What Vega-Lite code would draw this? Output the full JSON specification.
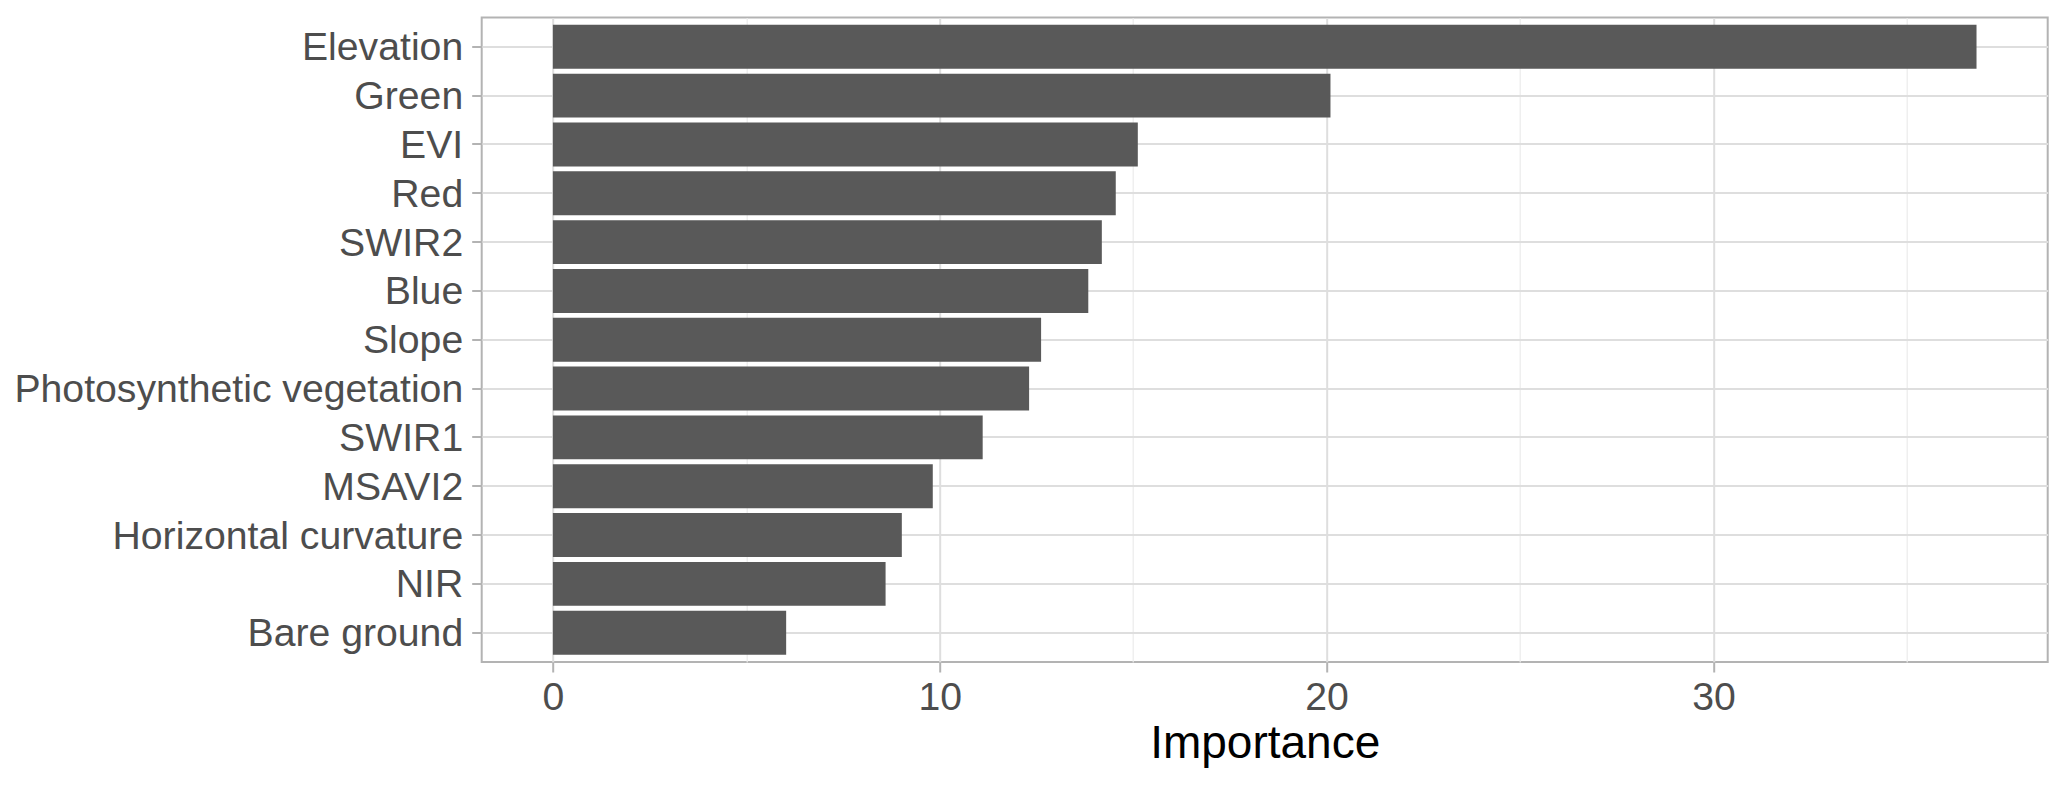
{
  "$schema": "https://vega.github.io/schema/vega-lite/v6.json",
  "width": 1566,
  "height": 644.5,
  "autosize": {"type": "none"},
  "padding": {"left": 481.7, "top": 17.5, "right": 19.3, "bottom": 123},
  "background": "white",
  "config": {
    "view": {"stroke": "#b3b3b3", "strokeWidth": 2},
    "font": "Liberation Sans"
  },
  "data": {
    "values": [
      {"variable": "Elevation", "importance": 36.8},
      {"variable": "Green", "importance": 20.1},
      {"variable": "EVI", "importance": 15.12},
      {"variable": "Red", "importance": 14.55},
      {"variable": "SWIR2", "importance": 14.19},
      {"variable": "Blue", "importance": 13.84},
      {"variable": "Slope", "importance": 12.62},
      {"variable": "Photosynthetic vegetation", "importance": 12.31},
      {"variable": "SWIR1", "importance": 11.11},
      {"variable": "MSAVI2", "importance": 9.82},
      {"variable": "Horizontal curvature", "importance": 9.02},
      {"variable": "NIR", "importance": 8.6},
      {"variable": "Bare ground", "importance": 6.03}
    ]
  },
  "mark": {"type": "bar", "color": "#595959"},
  "encoding": {
    "y": {
      "field": "variable",
      "type": "nominal",
      "sort": null,
      "scale": {"paddingInner": 0.1, "paddingOuter": 0.15},
      "axis": {
        "title": null,
        "bandPosition": 0.5,
        "domain": false,
        "grid": true,
        "gridColor": "#dedede",
        "gridWidth": 2,
        "ticks": true,
        "tickColor": "#b3b3b3",
        "tickWidth": 2,
        "tickSize": 10,
        "labelPadding": 9,
        "labelOffset": 1.5,
        "labelFontSize": 39.2,
        "labelColor": "#4d4d4d",
        "labelFont": "Liberation Sans",
        "labelLimit": 1000
      }
    },
    "x": {
      "field": "importance",
      "type": "quantitative",
      "scale": {"domain": [-1.84, 38.64], "nice": false, "zero": false},
      "axis": {
        "title": "Importance",
        "values": [0, 5, 10, 15, 20, 25, 30, 35],
        "labelExpr": "datum.value % 10 === 0 ? datum.label : ''",
        "domain": false,
        "grid": true,
        "gridColor": {"condition": {"test": "datum.value % 10 === 0", "value": "#dedede"}, "value": "#ebebeb"},
        "gridWidth": {"condition": {"test": "datum.value % 10 === 0", "value": 2}, "value": 1.2},
        "tickColor": "#b3b3b3",
        "tickWidth": 2,
        "tickSize": 10,
        "tickOpacity": {"condition": {"test": "datum.value % 10 === 0", "value": 1}, "value": 0},
        "labelPadding": 6,
        "labelFontSize": 39.2,
        "labelColor": "#4d4d4d",
        "labelFont": "Liberation Sans",
        "labelFlush": false,
        "labelOverlap": false,
        "titleFont": "Liberation Sans",
        "titleFontSize": 46,
        "titleFontWeight": "normal",
        "titleColor": "#000000",
        "titleBaseline": "alphabetic",
        "titleY": 95.3
      }
    }
  }
}
